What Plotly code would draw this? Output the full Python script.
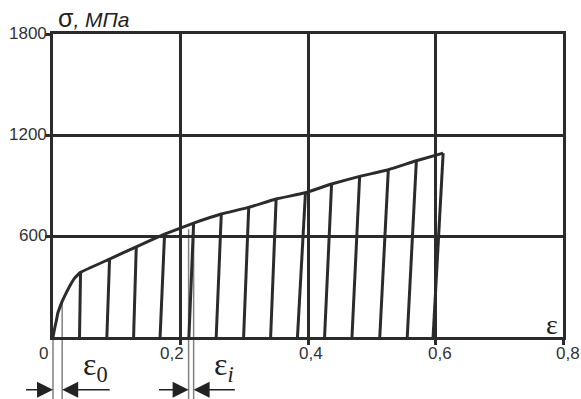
import plotly.graph_objects as go

# ---- data ----
init_strain = [0.0, 0.0025, 0.005, 0.0076, 0.0113, 0.0145, 0.018, 0.022, 0.0259, 0.0298, 0.0338, 0.0385]
init_stress = [0, 50, 92, 143, 182, 213, 241, 272, 300, 326, 350, 368]
peak_strain = [0.0432, 0.0887, 0.1306, 0.175, 0.2206, 0.264, 0.307, 0.350,
               0.396, 0.437, 0.481, 0.526, 0.570, 0.612]
peak_stress = [384, 463, 536, 611, 677, 731, 770, 820, 857, 909, 954, 994, 1047, 1092]
residual_strain = [0.0416, 0.0845, 0.1264, 0.168, 0.2132, 0.256, 0.299, 0.3414,
                   0.3835, 0.426, 0.469, 0.5126, 0.5557, 0.5962]
x_tick_vals = [0, 0.2, 0.4, 0.6, 0.8]
x_tick_text = ["0", "0,2", "0,4", "0,6", "0,8"]
y_tick_vals = [600, 1200, 1800]
y_tick_text = ["600", "1200", "1800"]
eps0_marks = [0.0, 0.0144]        # strains bounding ε0
eps0_top = [0, 210]
epsi_marks = [0.2127, 0.2206]     # strains bounding εi
epsi_top = [640, 677]

XMAX = 0.8
YMAX = 1800
DARK = "#2b2b2b"
GREY = "#808080"

fig = go.Figure()

# loading curve
fig.add_trace(go.Scatter(
    x=init_strain + peak_strain, y=init_stress + peak_stress,
    mode="lines", line=dict(color=DARK, width=3, shape="spline", smoothing=0.3),
    hoverinfo="skip", showlegend=False))

# unloading lines
ux, uy = [], []
for ps, pst, rs in zip(peak_strain, peak_stress, residual_strain):
    ux += [ps, rs, None]
    uy += [pst, 0, None]
fig.add_trace(go.Scatter(x=ux, y=uy, mode="lines",
                         line=dict(color=DARK, width=3),
                         hoverinfo="skip", showlegend=False))

plot_h_px = 399 - 34 - 62
bottom_paper = -(399 - 337) / plot_h_px - 0.01
arrow_y = -(390 - 337.3) / plot_h_px

shapes = []
for xs, tops in ((eps0_marks, eps0_top), (epsi_marks, epsi_top)):
    for xv, tv in zip(xs, tops):
        shapes.append(dict(type="line", xref="paper", yref="paper",
                           x0=xv / XMAX, x1=xv / XMAX, y0=tv / YMAX, y1=bottom_paper,
                           line=dict(color=GREY, width=1.5), layer="below"))

annotations = []
# x tick labels
shifts = [-10, -9, 3, 4, 5]
for v, t, s in zip(x_tick_vals, x_tick_text, shifts):
    annotations.append(dict(x=v, y=0, xref="x", yref="paper", text=t,
                            showarrow=False, xanchor="center", yanchor="top",
                            xshift=s, yshift=-5,
                            font=dict(family="Liberation Sans, Arial", size=17, color="#333")))
# y tick labels
for v, t in zip(y_tick_vals, y_tick_text):
    annotations.append(dict(x=0, y=v, xref="paper", yref="y", text=t,
                            showarrow=False, xanchor="right", yanchor="middle",
                            xshift=-4, yshift=1,
                            font=dict(family="Liberation Sans, Arial", size=17, color="#333")))

# arrows
def arrow(head, tail):
    return dict(x=head, y=arrow_y, xref="x", yref="paper", ax=tail, ay=0,
                axref="x", ayref="pixel", text="", showarrow=True,
                arrowhead=2, arrowsize=2.0, arrowwidth=1.6, arrowcolor="#222")

annotations += [
    arrow(eps0_marks[0], -0.0447), arrow(eps0_marks[1], 0.0913),
    arrow(epsi_marks[0], 0.164), arrow(epsi_marks[1], 0.2876),
]

serif = "Liberation Serif, Times New Roman"
lab_y = -(389 - 337.3) / plot_h_px
annotations += [
    dict(x=0.066, y=lab_y, xref="x", yref="paper",
         text="ε<sub>0</sub>", showarrow=False,
         font=dict(family=serif, size=32, color="#222")),
    dict(x=0.268, y=lab_y, xref="x", yref="paper",
         text="ε<sub><i>i</i></sub>", showarrow=False,
         font=dict(family=serif, size=32, color="#222")),
    dict(x=0.782, y=75, xref="x", yref="y", text="ε", showarrow=False,
         font=dict(family=serif, size=28, color="#222")),
    dict(x=0.006, y=1, xref="paper", yref="paper", xanchor="left", yanchor="bottom",
         yshift=0, text="<span style='font-size:25px'>σ</span><i>, МПа</i>", showarrow=False,
         font=dict(family="Liberation Sans, Arial", size=21, color="#222")),
]

fig.update_layout(
    width=581, height=399,
    margin=dict(l=53, r=18, t=34, b=62, autoexpand=False),
    paper_bgcolor="white", plot_bgcolor="white",
    shapes=shapes, annotations=annotations,
    xaxis=dict(range=[0, XMAX], tickvals=x_tick_vals[1:], showticklabels=False,
               showgrid=True, gridcolor=DARK, gridwidth=2.5,
               showline=True, mirror=True, linecolor=DARK, linewidth=3,
               ticks="outside", ticklen=5, tickwidth=2.5, tickcolor=DARK,
               zeroline=False, fixedrange=True, automargin=False),
    yaxis=dict(range=[0, YMAX], tickvals=y_tick_vals, showticklabels=False,
               showgrid=True, gridcolor=DARK, gridwidth=2.5,
               showline=True, mirror=True, linecolor=DARK, linewidth=3,
               ticks="outside", ticklen=5, tickwidth=2.5, tickcolor=DARK,
               zeroline=False, fixedrange=True, automargin=False),
)

fig.write_html("out.html")
